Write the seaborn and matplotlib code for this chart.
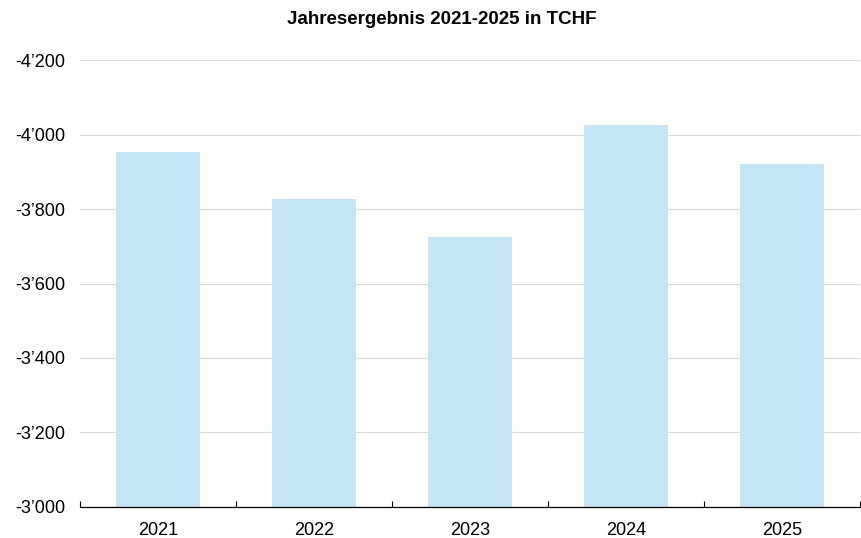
import pandas as pd
import seaborn as sns
import matplotlib.pyplot as plt
from matplotlib.ticker import FuncFormatter, FixedLocator

years = ["2021", "2022", "2023", "2024", "2025"]
values = [-3953, -3827, -3725, -4025, -3921]

df = pd.DataFrame({"Jahr": years, "Ergebnis": values})

plt.rcParams['font.family'] = ['Liberation Sans', 'DejaVu Sans']

fig = plt.figure(figsize=(8.62, 5.38), dpi=100)
ax = fig.add_axes([0.093, 0.058, 0.905, 0.83])
sns.barplot(x="Jahr", y="Ergebnis", data=df, color="#C5E5F5", width=0.54,
            errorbar=None, ax=ax, saturation=1)

ax.set_ylim(-3000, -4200)
ax.set_xlim(-0.5, 4.5)
ax.set_yticks([-3000, -3200, -3400, -3600, -3800, -4000, -4200])
ax.yaxis.set_major_formatter(FuncFormatter(lambda v, p: f"{int(v):,}".replace(",", "\u2019")))
ax.yaxis.grid(True, color="#D9D9D9", linewidth=0.8)
ax.set_axisbelow(True)

# category ticks between bars, labels centered
ax.xaxis.set_major_locator(FixedLocator([-0.5, 0.5, 1.5, 2.5, 3.5, 4.5]))
ax.xaxis.set_major_formatter(FuncFormatter(lambda v, p: ""))
ax.xaxis.set_minor_locator(FixedLocator(range(len(years))))
ax.set_xticklabels(years, minor=True)
ax.tick_params(axis="x", which="major", length=4, direction="in", color="black")
ax.tick_params(axis="x", which="minor", length=0, pad=11, labelsize=13)
ax.tick_params(axis="y", length=0, pad=11, labelsize=13)

for s in ["top", "right", "left"]:
    ax.spines[s].set_visible(False)
ax.spines["bottom"].set_color("black")
ax.spines["bottom"].set_linewidth(0.9)

ax.set_xlabel("")
ax.set_ylabel("")
fig.suptitle("Jahresergebnis 2021-2025 in TCHF", fontweight="bold", fontsize=13.5,
             x=0.513, y=0.98)

fig.savefig("out.png", dpi=100)
